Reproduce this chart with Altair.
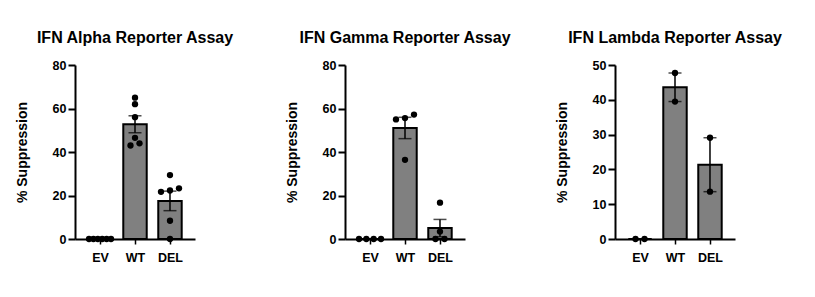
import altair as alt
import pandas as pd

# Group labels on the x axis of every panel
groups = ["EV", "WT", "DEL"]

# % suppression per replicate, IFN alpha reporter
alpha_ev = [0, 0, 0, 0, 0, 0]
alpha_wt = [65.0, 62.0, 56.0, 46.5, 44.0, 43.0]
alpha_del = [29.4, 23.3, 22.3, 21.7, 8.4, 0.0]

# % suppression per replicate, IFN gamma reporter
gamma_ev = [0, 0, 0, 0]
gamma_wt = [57.2, 55.6, 55.0, 36.4]
gamma_del = [16.7, 3.4, 0.0, 0.0]

# % suppression per replicate, IFN lambda reporter
lambda_ev = [0, 0]
lambda_wt = [47.7, 39.5]
lambda_del = [29.1, 13.6]

titles = ["IFN Alpha Reporter Assay", "IFN Gamma Reporter Assay", "IFN Lambda Reporter Assay"]
y_max = [80, 80, 50]
y_step = [20, 20, 10]

FONT = "Liberation Sans"
W, H = 120, 174
X_LO, X_HI = -0.715, 2.715
HALF_BAR = 0.335
BAR_FILL = "#808080"


def swarm(values, px_per_unit, step_px, near=6.5, gap=9.0, span=22.0):
    """Spread points with (nearly) equal values side by side, Prism style."""
    order = sorted(range(len(values)), key=lambda i: values[i])
    offsets = [0.0] * len(values)
    clusters = []
    for i in order:
        if clusters and (values[i] - values[clusters[-1][0]]) * px_per_unit < near:
            clusters[-1].append(i)
        else:
            clusters.append([i])
    for c in clusters:
        k = len(c)
        if k > 1:
            sp = min(gap, span / (k - 1))
            for j, i in enumerate(c):
                offsets[i] = (j - (k - 1) / 2) * sp / step_px
    return offsets


def panel(series, title, ymax, ystep):
    step_px = W / (X_HI - X_LO)
    pts, summ = [], []
    for gi, (g, vals) in enumerate(zip(groups, series)):
        offs = swarm(vals, H / ymax, step_px)
        for v, o in zip(vals, offs):
            pts.append({"group": g, "value": v, "xp": gi + o})
        s = pd.Series(vals, dtype=float)
        mean = s.mean()
        sem = s.std(ddof=1) / len(s) ** 0.5
        summ.append({"group": g, "pos": gi, "lo": gi - HALF_BAR, "hi": gi + HALF_BAR,
                     "mean": mean, "base": 0.0, "e_lo": mean - sem, "e_hi": mean + sem})
    pts = pd.DataFrame(pts)
    summ = pd.DataFrame(summ)

    label_expr = "[" + ",".join(f"'{g}'" for g in groups) + "][datum.value]"
    xscale = alt.Scale(domain=[X_LO, X_HI], nice=False, zero=False)
    yscale = alt.Scale(domain=[0, ymax], nice=False)
    xaxis = alt.Axis(values=list(range(len(groups))), labelExpr=label_expr, title=None,
                     grid=False, domainColor="black", domainWidth=2, tickColor="black",
                     tickWidth=1.5, tickSize=5, labelFont=FONT, labelFontSize=12.5,
                     labelFontWeight="bold", labelColor="black", labelPadding=7,
                     labelAngle=0)
    yaxis = alt.Axis(values=list(range(0, ymax + 1, ystep)), title="% Suppression",
                     grid=False, domainColor="black", domainWidth=2, tickColor="black",
                     tickWidth=2, tickSize=7, labelFont=FONT, labelFontSize=12.5,
                     labelFontWeight="bold", labelColor="black", labelPadding=2,
                     labelOverlap=False, titleFont=FONT, titleFontSize=14,
                     titleFontWeight="bold", titleColor="black", titlePadding=23)

    def xq(field):
        return alt.X(field, type="quantitative", scale=xscale, axis=xaxis)

    def yq(field):
        return alt.Y(field, type="quantitative", scale=yscale, axis=yaxis)

    bars = alt.Chart(summ).mark_bar(fill=BAR_FILL, stroke="black", strokeWidth=2).encode(
        x=xq("lo"), x2="hi:Q", y=yq("mean"), y2="base:Q")
    err = alt.Chart(summ).mark_rule(color="black", strokeWidth=1.5).encode(
        x=xq("pos"), y=yq("e_lo"), y2="e_hi:Q")
    cap_hi = alt.Chart(summ).mark_tick(color="black", orient="horizontal", size=13,
                                       thickness=1.5).encode(x=xq("pos"), y=yq("e_hi"))
    cap_lo = alt.Chart(summ).mark_tick(color="black", orient="horizontal", size=13,
                                       thickness=1.5).encode(x=xq("pos"), y=yq("e_lo"))
    dots = alt.Chart(pts).mark_circle(color="black", size=40, opacity=1).encode(
        x=xq("xp"), y=yq("value"))

    return alt.layer(bars, err, cap_hi, cap_lo, dots).properties(
        width=W, height=H,
        title=alt.TitleParams(title, font=FONT, fontSize=16, fontWeight="bold",
                              color="black", anchor="middle", baseline="alphabetic",
                              offset=0),
    )


chart = alt.hconcat(
    panel([alpha_ev, alpha_wt, alpha_del], titles[0], y_max[0], y_step[0]),
    panel([gamma_ev, gamma_wt, gamma_del], titles[1], y_max[1], y_step[1]),
    panel([lambda_ev, lambda_wt, lambda_del], titles[2], y_max[2], y_step[2]),
    spacing=150, bounds="flush",
).properties(
    padding={"left": 15, "top": 30, "right": 20, "bottom": 30},
    background="white",
).configure_view(stroke=None)

chart.save("out.html", embed_options={"renderer": "svg", "actions": False})
